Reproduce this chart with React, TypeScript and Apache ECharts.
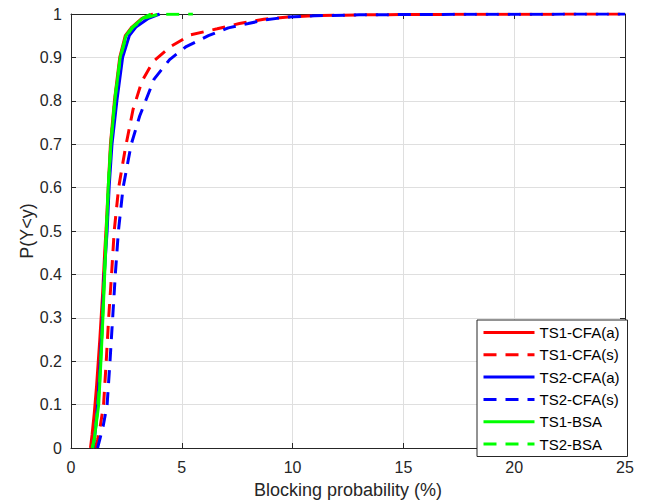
import React, { useEffect, useRef } from "react";
import * as echarts from "echarts";

// Empirical CDFs of blocking probability: [blocking probability (%), P(Y<y)]
const ts1CfaA: [number, number][] = [
  [0.88, 0], [0.95, 0.03], [1.05, 0.08], [1.15, 0.14], [1.3, 0.25], [1.42, 0.35],
  [1.52, 0.45], [1.6, 0.52], [1.68, 0.6], [1.78, 0.7], [1.96, 0.8], [2.2, 0.9],
  [2.45, 0.95], [2.75, 0.97], [3.2, 0.99], [3.7, 1.0],
];
const ts1CfaS: [number, number][] = [
  [1.1, 0], [1.2, 0.02], [1.32, 0.05], [1.47, 0.1], [1.59, 0.2], [1.7, 0.3],
  [1.83, 0.4], [1.95, 0.5], [2.15, 0.6], [2.45, 0.69], [2.8, 0.78], [3.2, 0.845],
  [3.7, 0.89], [4.5, 0.925], [5.4, 0.952], [6.6, 0.966], [7.6, 0.978], [8.7, 0.988],
  [9.8, 0.993], [11, 0.996], [13, 0.998], [16, 0.999], [20, 0.9995], [25, 1.0],
];
const ts2CfaA: [number, number][] = [
  [1.0, 0], [1.1, 0.04], [1.2, 0.1], [1.3, 0.18], [1.4, 0.28], [1.5, 0.4],
  [1.63, 0.5], [1.72, 0.6], [1.85, 0.7], [2.07, 0.8], [2.33, 0.9], [2.63, 0.95],
  [2.93, 0.97], [3.5, 0.99], [4.0, 1.0],
];
const ts2CfaS: [number, number][] = [
  [1.2, 0], [1.3, 0.02], [1.45, 0.05], [1.63, 0.1], [1.76, 0.2], [1.88, 0.3],
  [2.0, 0.4], [2.14, 0.5], [2.35, 0.6], [2.72, 0.7], [3.1, 0.765], [3.75, 0.85],
  [4.45, 0.895], [5.2, 0.925], [6.2, 0.95], [7.1, 0.968], [8.0, 0.978], [8.8, 0.987],
  [9.8, 0.993], [11, 0.996], [13, 0.998], [16, 0.999], [20, 0.9995], [25, 1.0],
];
const ts1Bsa: [number, number][] = [
  [0.95, 0], [1.05, 0.02], [1.15, 0.06], [1.25, 0.1], [1.35, 0.2], [1.44, 0.3],
  [1.52, 0.4], [1.6, 0.5], [1.68, 0.6], [1.8, 0.7], [1.98, 0.8], [2.22, 0.9],
  [2.48, 0.95], [2.78, 0.97], [3.23, 0.99], [3.6, 1.0],
];
const ts2Bsa: [number, number][] = [
  [0.98, 0], [1.08, 0.03], [1.18, 0.08], [1.28, 0.14], [1.38, 0.24], [1.46, 0.34],
  [1.54, 0.44], [1.61, 0.52], [1.69, 0.61], [1.81, 0.71], [1.99, 0.81], [2.23, 0.9],
  [2.5, 0.95], [2.8, 0.97], [3.3, 0.99], [3.9, 0.999], [5.5, 1.0],
];

const seriesNames = ["TS1-CFA(a)", "TS1-CFA(s)", "TS2-CFA(a)", "TS2-CFA(s)", "TS1-BSA", "TS2-BSA"];
const seriesData = [ts1CfaA, ts1CfaS, ts2CfaA, ts2CfaS, ts1Bsa, ts2Bsa];
const seriesColors = ["#ff0000", "#ff0000", "#0000ff", "#0000ff", "#00ff00", "#00ff00"];
const seriesDashed = [false, true, false, true, false, true];

const xTicks = { min: 0, max: 25, interval: 5 };
const yTicks = { min: 0, max: 1, interval: 0.1 };

const AXIS_COLOR = "#262626";
const GRID_COLOR = "#dfdfdf";
const FONT = "Liberation Sans, Arial, Helvetica, sans-serif";

export default function App() {
  const ref = useRef<HTMLDivElement>(null);

  useEffect(() => {
    if (!ref.current) return;
    const chart = echarts.init(ref.current, undefined, { renderer: "svg" });

    const baseAxis = {
      type: "value" as const,
      axisLine: { show: true, onZero: false, lineStyle: { color: AXIS_COLOR, width: 1 } },
      axisTick: { show: true, inside: true, length: 5, lineStyle: { color: AXIS_COLOR } },
    };

    chart.setOption({
      animation: false,
      backgroundColor: "#ffffff",
      textStyle: { fontFamily: FONT },
      grid: { left: 71, right: 23, top: 14, bottom: 54, containLabel: false },
      xAxis: [
        {
          ...baseAxis,
          ...xTicks,
          position: "bottom",
          name: "Blocking probability (%)",
          nameLocation: "middle",
          nameGap: 33,
          nameMoveOverlap: false,
          nameTextStyle: { color: AXIS_COLOR, fontSize: 18, fontFamily: FONT },
          axisLabel: { color: AXIS_COLOR, fontSize: 16, margin: 11, fontFamily: FONT },
          splitLine: { show: true, lineStyle: { color: GRID_COLOR, width: 1 } },
        },
        {
          ...baseAxis,
          ...xTicks,
          position: "top",
          axisLabel: { show: false },
          splitLine: { show: false },
        },
      ],
      yAxis: [
        {
          ...baseAxis,
          ...yTicks,
          position: "left",
          name: "P(Y<y)",
          nameLocation: "middle",
          nameGap: 35,
          nameMoveOverlap: false,
          nameTextStyle: { color: AXIS_COLOR, fontSize: 18, fontFamily: FONT },
          axisLabel: {
            color: AXIS_COLOR,
            fontSize: 16,
            margin: 9,
            fontFamily: FONT,
            formatter: (v: number) => String(Math.round(v * 10) / 10),
          },
          splitLine: { show: true, lineStyle: { color: GRID_COLOR, width: 1 } },
        },
        {
          ...baseAxis,
          ...yTicks,
          position: "right",
          axisLabel: { show: false },
          splitLine: { show: false },
        },
      ],
      legend: {
        orient: "vertical",
        left: 477,
        top: 320,
        padding: [5, 8, 5, 5],
        itemWidth: 51,
        itemHeight: 14,
        itemGap: 7.3,
        backgroundColor: "#ffffff",
        borderColor: AXIS_COLOR,
        borderWidth: 1,
        borderRadius: 0,
        // line-only keys: hide the marker that line series put in the middle
        itemStyle: { opacity: 0, borderWidth: 0 },
        lineStyle: { width: 3 },
        textStyle: { color: "#000000", fontSize: 15, fontFamily: FONT },
        data: seriesNames,
      },
      series: seriesNames.map((name, i) => ({
        name,
        type: "line",
        data: seriesData[i],
        showSymbol: false,
        symbol: "none",
        smooth: false,
        clip: true,
        lineStyle: {
          color: seriesColors[i],
          width: 3,
          type: seriesDashed[i] ? [13, 9] : "solid",
        },
        itemStyle: { color: "rgba(0,0,0,0)", borderWidth: 0 },
        z: 2 + i,
      })),
    });

    return () => chart.dispose();
  }, []);

  return <div ref={ref} style={{ width: 648, height: 504, position: "absolute", left: 0, top: 0 }} />;
}
